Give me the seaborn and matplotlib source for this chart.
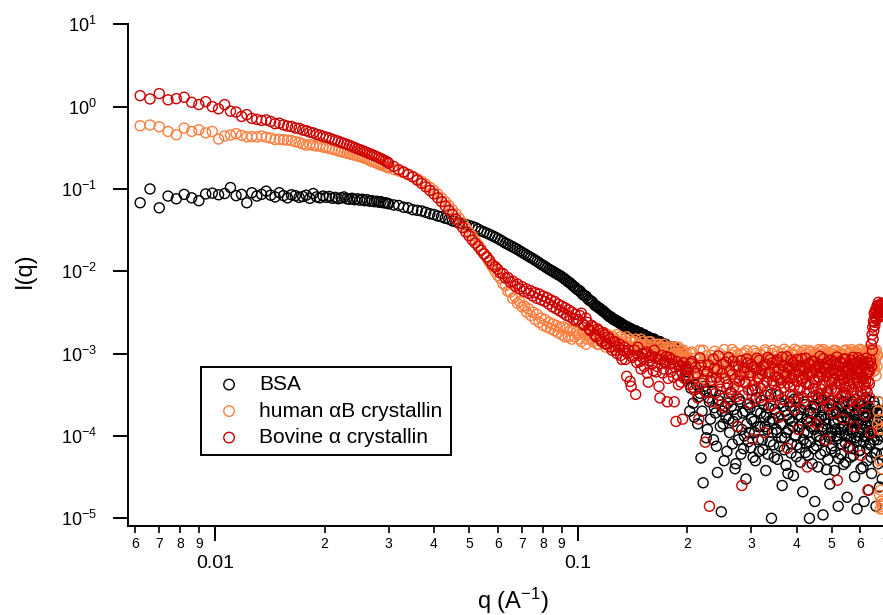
import numpy as np
import pandas as pd
import matplotlib
matplotlib.use('Agg')
import matplotlib.pyplot as plt
import matplotlib.ticker as mticker
import seaborn as sns

# ---- q grid (1/A), same for the three samples
q_low = [0.0062, 0.0066, 0.0070, 0.0074, 0.0078, 0.0082, 0.0086, 0.0090, 0.0094, 0.0098,
         0.0102, 0.0106, 0.0110, 0.0114, 0.0118, 0.0122, 0.0126, 0.0130, 0.0134, 0.0138,
         0.0142, 0.0146, 0.0150, 0.0154, 0.0158, 0.0162, 0.0166, 0.0170, 0.0174, 0.0178,
         0.0182, 0.0186, 0.0190, 0.0194, 0.0198, 0.0202, 0.0206, 0.0210, 0.0214, 0.0218,
         0.0222, 0.0226, 0.0230, 0.0234, 0.0238, 0.0242, 0.0246, 0.0250, 0.0254, 0.0258,
         0.0262, 0.0266, 0.0270, 0.0274, 0.0278, 0.0282, 0.0286, 0.0290, 0.0294, 0.0298]
q_mid = [0.030, 0.031, 0.032, 0.033, 0.034, 0.035, 0.036, 0.037, 0.038, 0.039,
         0.040, 0.041, 0.042, 0.043, 0.044, 0.045, 0.046, 0.047, 0.048, 0.049,
         0.050, 0.051, 0.052, 0.053, 0.054, 0.055, 0.056, 0.057, 0.058, 0.059,
         0.060, 0.061, 0.062, 0.063, 0.064, 0.065, 0.066, 0.067, 0.068, 0.069,
         0.070, 0.071, 0.072, 0.073, 0.074, 0.075, 0.076, 0.077, 0.078, 0.079,
         0.080, 0.081, 0.082, 0.083, 0.084, 0.085, 0.086, 0.087, 0.088, 0.089,
         0.090, 0.091, 0.092, 0.093, 0.094, 0.095, 0.096, 0.097, 0.098, 0.099]
q_hi1 = [0.100, 0.102, 0.104, 0.106, 0.108, 0.110, 0.112, 0.114, 0.116, 0.118,
         0.120, 0.122, 0.124, 0.126, 0.128, 0.130, 0.132, 0.134, 0.136, 0.138,
         0.140, 0.142, 0.144, 0.146, 0.148, 0.150, 0.152, 0.154, 0.156, 0.158,
         0.160, 0.162, 0.164, 0.166, 0.168, 0.170, 0.172, 0.174, 0.176, 0.178,
         0.180, 0.182, 0.184, 0.186, 0.188, 0.190, 0.192, 0.194, 0.196, 0.198]
q_hi1b = [0.101, 0.103, 0.105, 0.107, 0.109, 0.111, 0.113, 0.115, 0.117, 0.119,
          0.121, 0.123, 0.125, 0.127, 0.129, 0.131, 0.133, 0.135, 0.137, 0.139,
          0.141, 0.143, 0.145, 0.147, 0.149, 0.151, 0.153, 0.155, 0.157, 0.159,
          0.161, 0.163, 0.165, 0.167, 0.169, 0.171, 0.173, 0.175, 0.177, 0.179,
          0.181, 0.183, 0.185, 0.187, 0.189, 0.191, 0.193, 0.195, 0.197, 0.199]
q_hi2 = [0.200, 0.203, 0.206, 0.209, 0.212, 0.215, 0.218, 0.221, 0.224, 0.227,
         0.230, 0.233, 0.236, 0.239, 0.242, 0.245, 0.248, 0.251, 0.254, 0.257,
         0.260, 0.263, 0.266, 0.269, 0.272, 0.275, 0.278, 0.281, 0.284, 0.287,
         0.290, 0.293, 0.296, 0.299, 0.302, 0.305, 0.308, 0.311, 0.314, 0.317,
         0.320, 0.323, 0.326, 0.329, 0.332, 0.335, 0.338, 0.341, 0.344, 0.347,
         0.350, 0.353, 0.356, 0.359, 0.362, 0.365, 0.368, 0.371, 0.374, 0.377,
         0.380, 0.383, 0.386, 0.389, 0.392, 0.395, 0.398, 0.401, 0.404, 0.407,
         0.410, 0.413, 0.416, 0.419, 0.422, 0.425, 0.428, 0.431, 0.434, 0.437,
         0.440, 0.443, 0.446, 0.449, 0.452, 0.455, 0.458, 0.461, 0.464, 0.467,
         0.470, 0.473, 0.476, 0.479, 0.482, 0.485, 0.488, 0.491, 0.494, 0.497,
         0.500, 0.503, 0.506, 0.509, 0.512, 0.515, 0.518, 0.521, 0.524, 0.527,
         0.530, 0.533, 0.536, 0.539, 0.542, 0.545, 0.548, 0.551, 0.554, 0.557,
         0.560, 0.563, 0.566, 0.569, 0.572, 0.575, 0.578, 0.581, 0.584, 0.587,
         0.590, 0.593, 0.596, 0.599, 0.602, 0.605, 0.608, 0.611, 0.614, 0.617,
         0.620, 0.623, 0.626, 0.629, 0.632, 0.635, 0.638, 0.641, 0.644, 0.647,
         0.650, 0.653, 0.656, 0.659, 0.662, 0.665, 0.668, 0.671, 0.674, 0.677,
         0.680, 0.683, 0.686, 0.689]
q_hi2b = [0.2015, 0.2045, 0.2075, 0.2105, 0.2135, 0.2165, 0.2195, 0.2225, 0.2255, 0.2285,
          0.2315, 0.2345, 0.2375, 0.2405, 0.2435, 0.2465, 0.2495, 0.2525, 0.2555, 0.2585,
          0.2615, 0.2645, 0.2675, 0.2705, 0.2735, 0.2765, 0.2795, 0.2825, 0.2855, 0.2885,
          0.2915, 0.2945, 0.2975, 0.3005, 0.3035, 0.3065, 0.3095, 0.3125, 0.3155, 0.3185,
          0.3215, 0.3245, 0.3275, 0.3305, 0.3335, 0.3365, 0.3395, 0.3425, 0.3455, 0.3485,
          0.3515, 0.3545, 0.3575, 0.3605, 0.3635, 0.3665, 0.3695, 0.3725, 0.3755, 0.3785,
          0.3815, 0.3845, 0.3875, 0.3905, 0.3935, 0.3965, 0.3995, 0.4025, 0.4055, 0.4085,
          0.4115, 0.4145, 0.4175, 0.4205, 0.4235, 0.4265, 0.4295, 0.4325, 0.4355, 0.4385,
          0.4415, 0.4445, 0.4475, 0.4505, 0.4535, 0.4565, 0.4595, 0.4625, 0.4655, 0.4685,
          0.4715, 0.4745, 0.4775, 0.4805, 0.4835, 0.4865, 0.4895, 0.4925, 0.4955, 0.4985,
          0.5015, 0.5045, 0.5075, 0.5105, 0.5135, 0.5165, 0.5195, 0.5225, 0.5255, 0.5285,
          0.5315, 0.5345, 0.5375, 0.5405, 0.5435, 0.5465, 0.5495, 0.5525, 0.5555, 0.5585,
          0.5615, 0.5645, 0.5675, 0.5705, 0.5735, 0.5765, 0.5795, 0.5825, 0.5855, 0.5885,
          0.5915, 0.5945, 0.5975, 0.6005, 0.6035, 0.6065, 0.6095, 0.6125, 0.6155, 0.6185,
          0.6215, 0.6245, 0.6275, 0.6305, 0.6335, 0.6365, 0.6395, 0.6425, 0.6455, 0.6485,
          0.6515, 0.6545, 0.6575, 0.6605, 0.6635, 0.6665, 0.6695, 0.6725, 0.6755, 0.6785,
          0.6815, 0.6845, 0.6875, 0.6905]

# ---- BSA
bsa_low = [0.068, 0.100, 0.059, 0.082, 0.076, 0.086, 0.078, 0.072, 0.087, 0.089,
           0.085, 0.088, 0.104, 0.083, 0.086, 0.068, 0.090, 0.082, 0.086, 0.094,
           0.084, 0.080, 0.090, 0.083, 0.078, 0.085, 0.083, 0.079, 0.081, 0.084,
           0.077, 0.088, 0.080, 0.078, 0.082, 0.079, 0.081, 0.077, 0.079, 0.076,
           0.078, 0.080, 0.076, 0.075, 0.077, 0.074, 0.076, 0.073, 0.075, 0.072,
           0.074, 0.071, 0.072, 0.070, 0.071, 0.069, 0.070, 0.068, 0.068, 0.067]
bsa_mid = [0.066, 0.064, 0.063, 0.060, 0.059, 0.056, 0.055, 0.054, 0.052, 0.050,
           0.049, 0.047, 0.046, 0.044, 0.043, 0.041, 0.040, 0.039, 0.038, 0.037,
           0.036, 0.035, 0.034, 0.0325, 0.031, 0.030, 0.029, 0.028, 0.027, 0.026,
           0.025, 0.024, 0.023, 0.022, 0.0213, 0.0205, 0.0198, 0.0191, 0.0184, 0.0177,
           0.0170, 0.0164, 0.0158, 0.0152, 0.0147, 0.0142, 0.0137, 0.0132, 0.0127, 0.0122,
           0.0118, 0.0114, 0.0110, 0.0106, 0.0103, 0.0100, 0.0097, 0.0094, 0.0091, 0.0089,
           0.0086, 0.0083, 0.0080, 0.0077, 0.0074, 0.0072, 0.0069, 0.0066, 0.0064, 0.0061]
bsa_hi1 = [0.0059, 0.0055, 0.0051, 0.0047, 0.0044, 0.0041, 0.0038, 0.0036, 0.0034, 0.0032,
           0.0030, 0.0028, 0.0027, 0.0026, 0.0025, 0.0024, 0.0023, 0.0022, 0.0021, 0.0020,
           0.0020, 0.0019, 0.0019, 0.0018, 0.0018, 0.0017, 0.0017, 0.0016, 0.0016, 0.0015,
           0.0015, 0.0015, 0.0014, 0.0014, 0.0014, 0.0013, 0.0013, 0.0013, 0.0012, 0.0012,
           0.0012, 0.0011, 0.0012, 0.0010, 0.0011, 0.0009, 0.0010, 0.0008, 0.0009, 0.0006]
bsa_hi1b = [0.0058, 0.0052, 0.0050, 0.0045, 0.0043, 0.0039, 0.0037, 0.0035, 0.0033, 0.0031,
            0.0029, 0.0028, 0.0026, 0.0025, 0.0024, 0.0023, 0.0022, 0.0021, 0.0021, 0.0020,
            0.0019, 0.0019, 0.0018, 0.0018, 0.0017, 0.0017, 0.0016, 0.0016, 0.0015, 0.0015,
            0.0015, 0.0014, 0.0014, 0.0014, 0.0013, 0.0013, 0.0013, 0.0012, 0.0012, 0.0012,
            0.0011, 0.0011, 0.0010, 0.0011, 0.0009, 0.0010, 0.0008, 0.0009, 0.0007, 0.0005]
bsa_hi2 = [5.0e-4, 2.0e-4, 7.0e-4, 1.7e-4, 4.2e-4, 3.0e-4, 5.4e-5, 2.7e-5, 3.5e-4, 1.2e-4,
           2.6e-4, 4.5e-4, 9.0e-5, 1.9e-4, 3.6e-5, 3.1e-4, 1.2e-5, 1.4e-4, 2.3e-4, 6.5e-5,
           1.6e-4, 3.4e-4, 8.0e-5, 2.1e-4, 4.6e-5, 1.3e-4, 2.8e-4, 6.0e-5, 1.9e-4, 1.0e-4,
           3.0e-5, 2.4e-4, 1.1e-4, 7.2e-5, 3.6e-4, 1.5e-4, 5.0e-5, 2.0e-4, 9.0e-5, 1.3e-4,
           2.7e-4, 6.8e-5, 1.7e-4, 3.8e-5, 1.2e-4, 2.2e-4, 8.5e-5, 1.0e-5, 1.6e-4, 5.5e-5,
           1.9e-4, 1.1e-4, 3.1e-4, 7.5e-5, 1.4e-4, 2.5e-5, 2.3e-4, 9.5e-5, 4.4e-5, 1.8e-4,
           1.2e-4, 2.6e-4, 6.2e-5, 1.5e-4, 3.3e-5, 2.0e-4, 1.0e-4, 7.8e-5, 2.9e-4, 1.3e-4,
           4.8e-5, 1.7e-4, 2.1e-5, 1.1e-4, 2.4e-4, 8.0e-5, 1.5e-4, 5.8e-5, 1.0e-5, 1.9e-4,
           1.3e-4, 3.0e-4, 7.0e-5, 1.6e-5, 2.2e-4, 1.0e-4, 4.2e-5, 1.6e-4, 8.8e-5, 2.7e-4,
           1.2e-4, 1.1e-5, 1.8e-4, 6.5e-5, 1.4e-4, 3.4e-4, 5.2e-5, 2.1e-4, 2.6e-5, 1.0e-4,
           2.4e-4, 7.6e-5, 1.5e-4, 3.8e-5, 1.2e-4, 1.9e-4, 9.2e-5, 1.4e-5, 2.8e-4, 1.1e-4,
           6.0e-5, 1.7e-4, 2.3e-4, 4.5e-5, 1.3e-4, 8.2e-5, 3.1e-4, 1.8e-5, 1.6e-4, 1.0e-4,
           2.0e-4, 5.5e-5, 1.2e-4, 2.6e-4, 7.0e-5, 1.5e-4, 3.2e-5, 1.9e-4, 9.5e-5, 1.3e-5,
           1.4e-4, 2.5e-4, 6.6e-5, 1.1e-4, 4.0e-5, 2.1e-4, 1.2e-4, 8.5e-5, 1.6e-5, 1.7e-4,
           2.9e-4, 1.0e-4, 5.0e-5, 1.5e-4, 2.2e-5, 2.3e-4, 7.8e-5, 1.3e-4, 3.5e-5, 1.9e-4,
           1.1e-4, 2.6e-4, 6.2e-5, 1.6e-4, 1.4e-5, 2.0e-4, 9.0e-5, 4.6e-5, 1.4e-4, 2.4e-5,
           1.2e-4, 1.8e-4, 6.0e-5, 3.0e-5]
bsa_hi2b = [6.0e-4, 3.8e-4, 2.5e-4, 5.5e-4, 1.4e-4, 3.3e-4, 2.0e-4, 4.0e-4, 9.5e-5, 2.9e-4,
            1.6e-4, 3.5e-4, 2.2e-4, 7.5e-5, 2.7e-4, 1.3e-4, 2.0e-4, 5.0e-5, 1.7e-4, 2.5e-4,
            1.1e-4, 2.3e-4, 1.5e-4, 4.0e-5, 1.8e-4, 9.0e-5, 2.6e-4, 1.2e-4, 7.0e-5, 2.0e-4,
            1.4e-4, 8.5e-5, 2.2e-4, 1.6e-4, 5.5e-5, 1.1e-4, 2.9e-4, 1.3e-4, 6.5e-5, 1.9e-4,
            9.0e-5, 2.4e-4, 1.3e-4, 1.8e-4, 6.0e-5, 1.5e-4, 3.2e-4, 1.1e-4, 7.8e-5, 2.1e-4,
            1.2e-4, 5.2e-5, 1.7e-4, 2.5e-4, 9.5e-5, 1.4e-4, 6.8e-5, 2.0e-4, 1.1e-4, 3.5e-5,
            1.6e-4, 2.3e-4, 8.0e-5, 1.3e-4, 2.8e-4, 1.0e-4, 5.6e-5, 1.8e-4, 1.2e-4, 7.2e-5,
            2.1e-4, 1.4e-4, 9.0e-5, 2.6e-4, 6.3e-5, 1.6e-4, 1.1e-4, 2.0e-4, 8.4e-5, 1.3e-4,
            4.6e-5, 1.9e-4, 1.2e-4, 2.4e-4, 7.6e-5, 1.5e-4, 2.9e-4, 1.0e-4, 6.0e-5, 1.7e-4,
            1.3e-4, 2.2e-4, 8.8e-5, 1.6e-4, 3.9e-5, 1.2e-4, 2.5e-4, 9.6e-5, 1.8e-4, 7.0e-5,
            1.1e-4, 2.7e-4, 1.4e-4, 6.4e-5, 2.0e-4, 1.0e-4, 1.6e-4, 5.3e-5, 2.3e-4, 1.2e-4,
            8.0e-5, 1.9e-4, 1.3e-4, 2.6e-4, 1.0e-4, 4.8e-5, 1.7e-4, 1.2e-4, 2.1e-4, 7.4e-5,
            1.5e-4, 9.2e-5, 2.4e-4, 1.1e-4, 5.8e-5, 1.8e-4, 1.3e-4, 2.8e-4, 8.6e-5, 1.6e-4,
            1.0e-4, 2.0e-4, 6.7e-5, 1.4e-4, 2.5e-4, 1.2e-4, 4.2e-5, 1.7e-4, 9.8e-5, 2.2e-4,
            1.3e-4, 7.0e-5, 1.9e-4, 1.1e-4, 2.7e-4, 8.2e-5, 1.5e-4, 5.5e-5, 2.1e-4, 1.2e-4,
            1.7e-4, 9.0e-5, 2.3e-4, 1.3e-4, 6.2e-5, 1.9e-4, 1.1e-4, 2.6e-4, 7.8e-5, 1.5e-4,
            1.0e-4, 2.0e-4, 1.3e-4, 5.0e-5]

# ---- human alphaB crystallin
hab_low = [0.586, 0.598, 0.570, 0.500, 0.456, 0.550, 0.500, 0.524, 0.480, 0.500,
           0.404, 0.440, 0.452, 0.470, 0.448, 0.430, 0.432, 0.428, 0.440, 0.425,
           0.415, 0.398, 0.400, 0.396, 0.392, 0.388, 0.375, 0.368, 0.352, 0.340,
           0.346, 0.338, 0.332, 0.335, 0.322, 0.318, 0.310, 0.305, 0.298, 0.290,
           0.284, 0.278, 0.273, 0.268, 0.262, 0.258, 0.252, 0.248, 0.242, 0.236,
           0.230, 0.222, 0.216, 0.212, 0.206, 0.200, 0.195, 0.192, 0.188, 0.183]
hab_mid = [0.180, 0.172, 0.165, 0.157, 0.150, 0.142, 0.133, 0.124, 0.114, 0.105,
           0.096, 0.087, 0.078, 0.070, 0.063, 0.056, 0.050, 0.044, 0.039, 0.034,
           0.030, 0.027, 0.024, 0.021, 0.0185, 0.0163, 0.0145, 0.0128, 0.0113, 0.0100,
           0.0089, 0.0082, 0.0071, 0.0067, 0.0057, 0.0056, 0.0047, 0.0049, 0.0041, 0.0043,
           0.0037, 0.0038, 0.0032, 0.0035, 0.0029, 0.0032, 0.0026, 0.0030, 0.0024, 0.0027,
           0.0022, 0.0026, 0.0021, 0.0024, 0.0020, 0.0023, 0.0019, 0.0022, 0.0018, 0.0021,
           0.0017, 0.0021, 0.0016, 0.0020, 0.0016, 0.0019, 0.0015, 0.0019, 0.0016, 0.0018]
hab_hi1 = [0.0017, 0.0014, 0.0019, 0.0015, 0.0018, 0.0014, 0.0017, 0.0013, 0.0016, 0.0018,
           0.0013, 0.0016, 0.0012, 0.0015, 0.0017, 0.0012, 0.0015, 0.0013, 0.0016, 0.0011,
           0.0014, 0.0012, 0.0015, 0.0011, 0.0013, 0.0014, 0.0010, 0.0013, 0.0012, 0.0014,
           0.0010, 0.0012, 0.0013, 0.00095, 0.0012, 0.0011, 0.0013, 0.00090, 0.0011, 0.0012,
           0.00088, 0.0011, 0.0010, 0.0012, 0.00085, 0.0010, 0.0011, 0.00082, 0.0010, 0.00092]
hab_hi1b = [0.0015, 0.0018, 0.0013, 0.0017, 0.0015, 0.0019, 0.0013, 0.0016, 0.0014, 0.0012,
            0.0017, 0.0014, 0.0016, 0.0012, 0.0014, 0.0016, 0.0011, 0.0014, 0.0012, 0.0015,
            0.0012, 0.0014, 0.0010, 0.0013, 0.0015, 0.0011, 0.0013, 0.0010, 0.0014, 0.0011,
            0.0013, 0.0010, 0.0011, 0.0013, 0.00098, 0.0012, 0.0010, 0.0012, 0.00094, 0.0011,
            0.0012, 0.00092, 0.0011, 0.00096, 0.0012, 0.00088, 0.0010, 0.0011, 0.00086, 0.0010]
hab_hi2 = [9.0e-4, 6.2e-4, 1.05e-3, 7.4e-4, 5.1e-4, 8.6e-4, 6.8e-4, 1.1e-3, 5.6e-4, 8.0e-4,
           7.0e-4, 9.5e-4, 4.8e-4, 8.3e-4, 6.1e-4, 1.0e-3, 7.6e-4, 5.3e-4, 9.2e-4, 6.5e-4,
           8.8e-4, 5.9e-4, 1.12e-3, 7.2e-4, 4.5e-4, 9.7e-4, 6.7e-4, 8.1e-4, 5.4e-4, 1.02e-3,
           7.5e-4, 6.0e-4, 9.3e-4, 4.9e-4, 8.5e-4, 1.08e-3, 6.4e-4, 7.9e-4, 5.7e-4, 9.9e-4,
           6.9e-4, 8.7e-4, 4.4e-4, 1.04e-3, 7.3e-4, 5.8e-4, 9.0e-4, 6.6e-4, 1.1e-3, 7.8e-4,
           5.2e-4, 9.4e-4, 7.1e-4, 8.3e-4, 6.0e-4, 1.0e-3, 4.7e-4, 8.9e-4, 7.4e-4, 1.06e-3,
           6.3e-4, 8.0e-4, 5.5e-4, 9.6e-4, 7.0e-4, 1.13e-3, 6.5e-4, 8.4e-4, 4.6e-4, 9.1e-4,
           7.7e-4, 1.03e-3, 6.1e-4, 8.8e-4, 5.3e-4, 9.8e-4, 7.2e-4, 6.8e-4, 1.09e-3, 8.2e-4,
           5.9e-4, 9.3e-4, 7.5e-4, 4.9e-4, 1.01e-3, 8.6e-4, 6.4e-4, 1.12e-3, 7.0e-4, 8.0e-4,
           5.5e-4, 9.7e-4, 6.7e-4, 1.05e-3, 7.9e-4, 4.5e-4, 8.9e-4, 6.2e-4, 1.0e-3, 7.3e-4,
           8.5e-4, 5.8e-4, 1.1e-3, 6.9e-4, 9.4e-4, 5.1e-4, 7.6e-4, 1.04e-3, 6.3e-4, 8.7e-4,
           7.1e-4, 9.9e-4, 4.8e-4, 8.1e-4, 1.08e-3, 6.6e-4, 9.2e-4, 5.6e-4, 7.8e-4, 1.02e-3,
           6.0e-4, 8.5e-4, 1.12e-3, 7.2e-4, 5.3e-4, 9.5e-4, 6.8e-4, 1.06e-3, 7.7e-4, 8.9e-4,
           5.7e-4, 1.0e-3, 7.4e-4, 9.1e-4, 6.2e-4, 1.1e-3, 4.6e-4, 8.3e-4, 9.7e-4, 6.5e-4,
           8.0e-4, 1.05e-3, 5.9e-4, 9.3e-4, 7.0e-4, 1.13e-3, 6.4e-4, 8.7e-4, 1.0e-3, 7.5e-4,
           9.0e-4, 6.1e-4, 1.08e-3, 7.8e-4, 5.4e-4, 9.6e-4, 1.4e-4, 2.0e-4, 1.2e-4, 1.9e-5,
           1.3e-5, 1.6e-5, 4.0e-5, 1.4e-5]
hab_hi2b = [7.3e-4, 1.0e-3, 5.7e-4, 8.8e-4, 6.4e-4, 1.1e-3, 7.9e-4, 5.0e-4, 9.4e-4, 6.9e-4,
            8.5e-4, 6.0e-4, 1.07e-3, 7.1e-4, 5.4e-4, 9.1e-4, 6.6e-4, 1.12e-3, 7.7e-4, 8.3e-4,
            5.8e-4, 9.6e-4, 7.0e-4, 1.04e-3, 6.2e-4, 8.6e-4, 4.8e-4, 9.9e-4, 7.5e-4, 6.7e-4,
            1.09e-3, 8.0e-4, 5.5e-4, 9.2e-4, 6.9e-4, 7.6e-4, 1.01e-3, 5.9e-4, 8.7e-4, 7.2e-4,
            9.5e-4, 6.3e-4, 1.11e-3, 7.8e-4, 5.2e-4, 8.9e-4, 7.3e-4, 1.0e-3, 6.1e-4, 8.4e-4,
            7.0e-4, 1.06e-3, 5.6e-4, 9.0e-4, 7.7e-4, 6.4e-4, 1.13e-3, 8.1e-4, 5.3e-4, 9.3e-4,
            8.6e-4, 6.6e-4, 1.02e-3, 7.4e-4, 9.7e-4, 5.7e-4, 8.2e-4, 1.08e-3, 6.9e-4, 7.6e-4,
            5.0e-4, 9.5e-4, 8.3e-4, 1.1e-3, 6.3e-4, 7.5e-4, 9.0e-4, 5.5e-4, 1.04e-3, 7.1e-4,
            8.8e-4, 6.5e-4, 1.0e-3, 7.9e-4, 5.9e-4, 9.6e-4, 7.2e-4, 8.5e-4, 1.07e-3, 6.0e-4,
            7.7e-4, 1.12e-3, 6.8e-4, 8.2e-4, 5.4e-4, 9.4e-4, 7.4e-4, 1.03e-3, 6.6e-4, 8.9e-4,
            6.2e-4, 9.8e-4, 7.6e-4, 5.1e-4, 1.09e-3, 8.0e-4, 6.7e-4, 9.1e-4, 7.3e-4, 1.01e-3,
            8.4e-4, 5.8e-4, 9.5e-4, 7.1e-4, 6.3e-4, 1.11e-3, 7.8e-4, 8.8e-4, 5.5e-4, 9.9e-4,
            7.0e-4, 1.05e-3, 6.4e-4, 8.6e-4, 9.3e-4, 5.7e-4, 1.0e-3, 7.5e-4, 8.3e-4, 6.1e-4,
            9.7e-4, 7.2e-4, 1.13e-3, 6.5e-4, 8.5e-4, 5.3e-4, 9.0e-4, 7.9e-4, 1.06e-3, 6.8e-4,
            8.1e-4, 6.0e-4, 9.4e-4, 1.1e-3, 7.4e-4, 5.6e-4, 8.8e-4, 1.02e-3, 6.6e-4, 9.2e-4,
            7.6e-4, 1.04e-3, 6.3e-4, 8.7e-4, 1.1e-3, 7.0e-4, 9.5e-4, 2.6e-4, 1.6e-4, 5.0e-5,
            2.2e-5, 1.2e-4, 1.5e-5, 1.3e-5]

# ---- Bovine alpha crystallin
bov_low = [1.36, 1.24, 1.44, 1.21, 1.25, 1.30, 1.13, 1.06, 1.15, 1.00,
           0.94, 1.06, 0.88, 0.86, 0.76, 0.80, 0.72, 0.70, 0.68, 0.69,
           0.66, 0.62, 0.63, 0.60, 0.58, 0.575, 0.55, 0.545, 0.52, 0.51,
           0.49, 0.48, 0.46, 0.45, 0.435, 0.425, 0.415, 0.40, 0.39, 0.38,
           0.368, 0.358, 0.348, 0.338, 0.328, 0.318, 0.308, 0.300, 0.292, 0.284,
           0.276, 0.268, 0.261, 0.254, 0.247, 0.240, 0.233, 0.226, 0.219, 0.212]
bov_mid = [0.205, 0.188, 0.172, 0.161, 0.150, 0.140, 0.128, 0.117, 0.106, 0.096,
           0.087, 0.078, 0.070, 0.062, 0.055, 0.049, 0.043, 0.038, 0.034, 0.030,
           0.027, 0.024, 0.022, 0.020, 0.0180, 0.0163, 0.0150, 0.0135, 0.0120, 0.0114,
           0.0106, 0.0095, 0.0094, 0.0083, 0.0084, 0.0074, 0.0076, 0.0066, 0.0070, 0.0061,
           0.0065, 0.0057, 0.0061, 0.0054, 0.0058, 0.0050, 0.0055, 0.0047, 0.0053, 0.0045,
           0.0050, 0.0043, 0.0048, 0.0040, 0.0045, 0.0037, 0.0043, 0.0035, 0.0040, 0.0033,
           0.0038, 0.0031, 0.0036, 0.0029, 0.0034, 0.0028, 0.0032, 0.0026, 0.0030, 0.0025]
bov_hi1 = [0.0026, 0.0031, 0.0022, 0.0024, 0.0019, 0.0021, 0.0016, 0.0019, 0.0014, 0.0017,
           0.0013, 0.0015, 0.0011, 0.0014, 0.0010, 0.0013, 0.00085, 0.0012, 0.00053, 0.0011,
           0.00040, 0.00095, 0.00032, 0.0012, 0.00080, 0.0010, 0.00070, 0.00105, 0.00045, 0.00090,
           0.00075, 0.0011, 0.00060, 0.00085, 0.00029, 0.00095, 0.00065, 0.00080, 0.00026, 0.00090,
           0.00060, 0.00075, 0.00026, 0.00015, 0.00055, 0.00070, 0.00045, 0.00016, 0.00050, 0.00065]
bov_hi1b = [0.0029, 0.0023, 0.0027, 0.0020, 0.0022, 0.0017, 0.0020, 0.0015, 0.0018, 0.0013,
            0.0016, 0.0012, 0.0014, 0.0011, 0.0012, 0.00095, 0.0011, 0.00085, 0.0010, 0.00046,
            0.00090, 0.0011, 0.00078, 0.00095, 0.00065, 0.00088, 0.00100, 0.00058, 0.00082, 0.00095,
            0.00062, 0.00090, 0.00070, 0.00040, 0.00085, 0.00058, 0.00078, 0.00092, 0.00050, 0.00075,
            0.00085, 0.00052, 0.00068, 0.00080, 0.00042, 0.00072, 0.00060, 0.00078, 0.00055, 0.00070]
bov_hi2 = [6.5e-4, 4.2e-4, 8.0e-4, 3.6e-4, 5.8e-4, 1.6e-4, 7.2e-4, 4.8e-4, 8.4e-5, 6.0e-4,
           1.4e-5, 5.2e-4, 8.6e-4, 3.3e-4, 6.4e-4, 4.5e-4, 2.4e-4, 7.5e-4, 5.0e-4, 3.8e-4,
           9.0e-4, 2.8e-4, 5.6e-4, 4.0e-4, 7.0e-4, 1.3e-4, 4.6e-4, 8.2e-4, 3.1e-4, 6.1e-4,
           4.3e-4, 7.7e-4, 2.5e-4, 5.4e-4, 9.2e-5, 6.8e-4, 3.7e-4, 8.8e-4, 4.9e-4, 2.9e-4,
           6.3e-4, 4.1e-4, 1.1e-4, 7.4e-4, 3.5e-4, 5.7e-4, 8.5e-4, 2.3e-4, 4.7e-4, 6.6e-4,
           3.2e-4, 7.9e-4, 5.1e-4, 1.7e-4, 4.4e-4, 9.1e-4, 6.0e-4, 2.7e-4, 5.3e-4, 7.1e-5,
           6.9e-4, 4.0e-4, 8.3e-4, 3.0e-4, 5.5e-4, 2.1e-4, 7.3e-4, 4.6e-4, 1.2e-4, 6.2e-4,
           3.9e-4, 8.7e-4, 5.0e-4, 2.6e-4, 6.7e-4, 4.3e-4, 4.2e-5, 7.6e-4, 3.4e-4, 5.9e-4,
           2.2e-4, 8.1e-4, 4.8e-4, 6.4e-4, 3.1e-4, 1.4e-4, 7.0e-4, 5.2e-4, 9.3e-4, 3.7e-4,
           5.6e-4, 2.8e-4, 6.9e-4, 4.1e-4, 8.9e-5, 7.8e-4, 3.5e-4, 5.8e-4, 2.4e-4, 8.4e-4,
           4.5e-4, 6.3e-4, 1.9e-4, 5.1e-4, 7.4e-4, 3.3e-4, 2.9e-5, 6.1e-4, 4.7e-4, 8.0e-4,
           3.0e-4, 5.4e-4, 6.8e-4, 1.6e-4, 4.4e-4, 8.6e-4, 3.8e-4, 5.9e-4, 7.2e-5, 6.5e-4,
           4.2e-4, 7.5e-4, 2.7e-4, 5.5e-4, 9.0e-4, 3.6e-4, 1.3e-4, 6.2e-4, 4.9e-4, 7.9e-4,
           2.5e-4, 5.7e-4, 4.0e-4, 8.3e-4, 5.8e-5, 6.6e-4, 3.2e-4, 5.0e-4, 7.3e-4, 1.8e-4,
           4.6e-4, 8.8e-4, 3.4e-4, 2.2e-5, 6.0e-4, 4.3e-4, 7.7e-4, 1.1e-4, 7.0e-4, 1.1e-3,
           1.5e-3, 1.9e-3, 2.4e-3, 2.8e-3, 3.2e-3, 2.7e-3, 3.6e-3, 3.0e-3, 3.9e-3, 3.3e-3,
           3.7e-3, 2.9e-3, 3.5e-3, 4.0e-3]
bov_hi2b = [5.3e-4, 7.6e-4, 3.9e-4, 6.8e-4, 2.9e-4, 8.9e-4, 4.4e-4, 6.1e-4, 3.4e-4, 7.3e-4,
            4.7e-4, 2.6e-4, 6.6e-4, 5.1e-4, 9.4e-4, 3.7e-4, 5.8e-4, 2.2e-4, 7.9e-4, 4.2e-4,
            6.2e-4, 3.3e-4, 8.1e-4, 4.9e-4, 3.0e-4, 7.1e-4, 5.5e-4, 2.5e-5, 6.7e-4, 4.5e-4,
            8.6e-4, 3.6e-4, 5.9e-4, 7.4e-4, 4.1e-4, 2.7e-4, 6.4e-4, 5.2e-4, 8.3e-4, 3.8e-4,
            5.6e-4, 7.0e-4, 3.1e-4, 4.6e-4, 9.0e-4, 6.0e-4, 2.4e-4, 7.7e-4, 4.3e-4, 5.3e-4,
            3.5e-4, 8.4e-4, 6.5e-4, 4.8e-4, 2.8e-4, 7.2e-4, 3.9e-4, 5.7e-4, 9.2e-4, 4.4e-4,
            6.6e-4, 3.2e-4, 5.0e-4, 7.8e-4, 4.0e-4, 6.1e-4, 2.6e-4, 8.5e-4, 5.4e-4, 3.6e-4,
            7.1e-4, 4.7e-4, 2.9e-4, 6.3e-4, 8.8e-4, 3.4e-4, 5.6e-4, 4.2e-4, 7.5e-4, 1.5e-4,
            5.9e-4, 3.8e-4, 8.0e-4, 4.5e-4, 6.8e-4, 2.7e-4, 5.1e-4, 7.4e-4, 3.3e-4, 6.0e-4,
            4.1e-4, 8.7e-4, 3.0e-4, 6.5e-4, 5.3e-4, 2.3e-4, 7.2e-4, 4.6e-4, 8.2e-4, 3.7e-4,
            6.4e-4, 4.9e-4, 7.9e-4, 3.5e-4, 5.8e-4, 9.1e-4, 2.8e-4, 6.9e-4, 4.3e-4, 5.5e-4,
            7.6e-4, 3.2e-4, 5.0e-4, 8.6e-4, 4.0e-4, 6.2e-4, 2.5e-4, 7.0e-4, 4.7e-4, 3.9e-4,
            5.6e-4, 8.3e-4, 3.6e-4, 6.7e-4, 4.4e-4, 2.2e-4, 7.5e-4, 5.2e-4, 3.1e-4, 6.3e-4,
            8.9e-4, 4.5e-4, 6.0e-4, 3.4e-4, 7.3e-4, 5.1e-4, 2.7e-4, 8.0e-4, 4.2e-4, 6.6e-4,
            3.8e-4, 5.7e-4, 7.8e-4, 4.6e-4, 6.4e-4, 2.9e-4, 8.4e-4, 1.3e-3, 1.7e-3, 2.1e-3,
            2.5e-3, 3.1e-3, 2.2e-3, 3.4e-3, 2.6e-3, 3.8e-3, 3.1e-3, 4.2e-3, 3.4e-3, 2.8e-3,
            3.9e-3, 3.2e-3, 4.1e-3, 3.0e-3]

labels = ['BSA', 'human αB crystallin', 'Bovine α crystallin']
colors = ['#000000', '#FF7F3F', '#CC0000']

q_all = q_low + q_mid + q_hi1 + q_hi2 + q_hi1b + q_hi2b
series = [bsa_low + bsa_mid + bsa_hi1 + bsa_hi2 + bsa_hi1b + bsa_hi2b,
          hab_low + hab_mid + hab_hi1 + hab_hi2 + hab_hi1b + hab_hi2b,
          bov_low + bov_mid + bov_hi1 + bov_hi2 + bov_hi1b + bov_hi2b]
df = pd.concat([pd.DataFrame({'q': q_all, 'I': ii, 'sample': name})
                for name, ii in zip(labels, series)], ignore_index=True)

sns.set_style('ticks', {'axes.edgecolor': 'black', 'xtick.color': 'black',
                        'ytick.color': 'black', 'text.color': 'black'})
plt.rcParams['font.family'] = ['Liberation Sans', 'DejaVu Sans']
plt.rcParams['mathtext.fontset'] = 'custom'
plt.rcParams['mathtext.rm'] = 'Liberation Sans'
plt.rcParams['mathtext.it'] = 'Liberation Sans:italic'
plt.rcParams['mathtext.default'] = 'regular'

fig = plt.figure(figsize=(8.83, 6.15), dpi=100)
ax = fig.add_axes([127.5 / 883, 89 / 615, 767.5 / 883, 501.7 / 615])
ax.set_xscale('log')
ax.set_yscale('log')

for name, col in zip(labels, colors):
    sns.scatterplot(data=df[df['sample'] == name], x='q', y='I', ax=ax,
                    marker='o', s=52, facecolor='none', edgecolor=col,
                    linewidth=1.0, label=name)

ax.set_xlim(0.005722, 0.747)
ax.set_ylim(8.06e-6, 10)

# axes / ticks
sns.despine(ax=ax)
for side in ['left', 'bottom']:
    ax.spines[side].set_linewidth(1.4)

ax.xaxis.set_major_locator(mticker.LogLocator(base=10, numticks=10))
ax.xaxis.set_minor_locator(mticker.LogLocator(base=10, subs=np.arange(2, 10), numticks=20))
ax.xaxis.set_major_formatter(mticker.FuncFormatter(lambda v, p: f'{v:g}'))
ax.xaxis.set_minor_formatter(mticker.FuncFormatter(
    lambda v, p: f'{round(v / 10 ** np.floor(np.log10(v) + 1e-9))}'))
ax.yaxis.set_major_locator(mticker.LogLocator(base=10, numticks=10))
ax.yaxis.set_minor_locator(mticker.NullLocator())

ax.tick_params(axis='y', which='major', length=11, width=1.4, pad=11, labelsize=13)
ax.tick_params(axis='x', which='major', length=11, width=1.4, pad=10, labelsize=14)
ax.tick_params(axis='x', which='minor', length=5, width=1.2, pad=3, labelsize=10)

ax.set_xlabel('')
ax.set_ylabel('')
fig.text(513 / 883, 6 / 615, 'q (A$^{-1}$)', ha='center', va='baseline', fontsize=17)
fig.text(25 / 883, 1 - 270 / 615, 'I(q)', rotation=90, ha='center', va='center', fontsize=17)

leg = ax.legend(loc='upper left', bbox_to_anchor=(200.7 / 883, 1 - 366.7 / 615),
                bbox_transform=fig.transFigure, borderaxespad=0, fontsize=15,
                frameon=True, fancybox=False, framealpha=1, edgecolor='black',
                markerscale=1.05, handlelength=1.92, handletextpad=0.48,
                labelspacing=0.36, borderpad=0.4)
leg.get_frame().set_linewidth(1.4)

fig.savefig('out.png', dpi=100)
